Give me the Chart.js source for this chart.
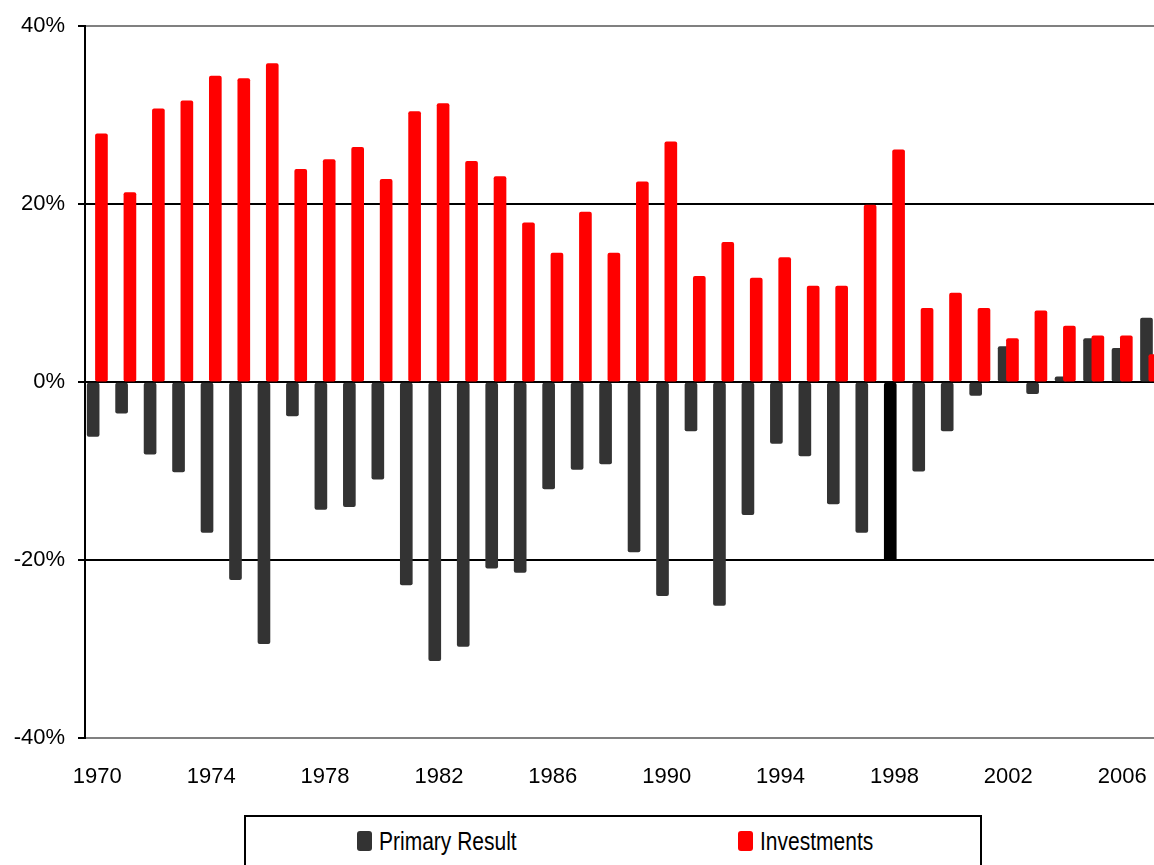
<!DOCTYPE html>
<html>
<head>
<meta charset="utf-8">
<script src="https://cdn.jsdelivr.net/npm/chart.js@4.4.0/dist/chart.umd.min.js"></script>
<style>
  html, body { margin: 0; padding: 0; background: #fff; overflow: hidden; }
  #wrap { position: relative; width: 1154px; height: 865px; }
  #legendBox { position: absolute; left: 244px; top: 815px; width: 734px; height: 80px; border: 2px solid #000; background: #fff; }
  .item { position: absolute; top: 14px; height: 20px; display: flex; align-items: center; font: 25px 'Liberation Sans', Arial, sans-serif; color: #000; white-space: nowrap; }
  .swatch { width: 15px; height: 20px; border-radius: 3px; margin-right: 7px; flex: none; }
  .txt { display: inline-block; transform: scaleX(0.84); transform-origin: 0 50%; }
</style>
</head>
<body>
<div id="wrap">
  <canvas id="chart" width="1154" height="865"></canvas>
  <div id="legendBox">
    <div class="item" style="left:111px"><span class="swatch" style="background:#333333"></span><span class="txt">Primary Result</span></div>
    <div class="item" style="left:492px"><span class="swatch" style="background:#ff0000"></span><span class="txt">Investments</span></div>
  </div>
</div>
<script>
// Data (values in %)
const years = [1970, 1971, 1972, 1973, 1974, 1975, 1976, 1977, 1978, 1979,
               1980, 1981, 1982, 1983, 1984, 1985, 1986, 1987, 1988, 1989,
               1990, 1991, 1992, 1993, 1994, 1995, 1996, 1997, 1998, 1999,
               2000, 2001, 2002, 2003, 2004, 2005, 2006, 2007];
const primaryResult = [-6.1, -3.5, -8.1, -10.1, -16.9, -22.2, -29.4, -3.8, -14.3, -14.0,
                       -10.9, -22.8, -31.3, -29.7, -20.9, -21.4, -12.0, -9.8, -9.2, -19.1,
                       -24.0, -5.5, -25.1, -14.9, -6.9, -8.3, -13.7, -16.9, -20.0, -10.0,
                       -5.5, -1.5, 4.0, -1.3, 0.6, 4.9, 3.8, 7.2];
const investments = [27.9, 21.3, 30.7, 31.6, 34.4, 34.1, 35.8, 23.9, 25.0, 26.4,
                     22.8, 30.4, 31.3, 24.8, 23.1, 17.9, 14.5, 19.1, 14.5, 22.5,
                     27.0, 11.9, 15.7, 11.7, 14.0, 10.8, 10.8, 19.9, 26.1, 8.3,
                     10.0, 8.3, 4.9, 8.0, 6.3, 5.2, 5.2, 3.1];
const xTickYears = [1970, 1974, 1978, 1982, 1986, 1990, 1994, 1998, 2002, 2006];
const yTickValues = [-40, -20, 0, 20, 40];
const highlightYear = 1998;

// axis window (last year is cut off at the right edge) and bar offset
const X_MIN = 1969.568, X_MAX = 2007.118, SHIFT = 0.146;
const FONT = { family: "'Liberation Sans', Arial, sans-serif", size: 22 };

const primaryColors = years.map(y => y === highlightYear ? '#000000' : '#333333');

const ctx = document.getElementById('chart').getContext('2d');
new Chart(ctx, {
    type: 'bar',
    data: {
        datasets: [{
            label: 'Primary Result',
            data: years.map((y, i) => ({ x: y, y: primaryResult[i] })),
            xAxisID: 'xPrimary',
            backgroundColor: primaryColors,
            barThickness: 12,
            borderRadius: 2,
            borderSkipped: false,
            grouped: false,
            order: 1
        }, {
            label: 'Investments',
            data: years.map((y, i) => ({ x: y, y: investments[i] })),
            xAxisID: 'xInvest',
            backgroundColor: '#ff0000',
            barThickness: 12,
            borderRadius: 2,
            borderSkipped: false,
            grouped: false,
            order: 0
        }]
    },
    options: {
        responsive: false,
        animation: false,
        layout: { padding: { top: 25, right: 0, bottom: 0, left: 0 } },
        plugins: {
            legend: { display: false },
            tooltip: { enabled: false }
        },
        scales: {
            x: {
                type: 'linear',
                position: 'bottom',
                offset: false,
                min: X_MIN,
                max: X_MAX,
                grid: { display: false, drawTicks: false, offset: false },
                border: { display: false },
                afterBuildTicks: s => { s.ticks = xTickYears.map(v => ({ value: v })); },
                afterFit: s => { s.height = 127; s.paddingLeft = 0; s.paddingRight = 0; },
                ticks: {
                    autoSkip: false,
                    maxRotation: 0,
                    padding: 26,
                    color: '#000',
                    font: FONT,
                    callback: v => String(v)
                }
            },
            xPrimary: { type: 'linear', display: false, offset: false, grid: { offset: false }, min: X_MIN + SHIFT, max: X_MAX + SHIFT },
            xInvest: { type: 'linear', display: false, offset: false, grid: { offset: false }, min: X_MIN - SHIFT, max: X_MAX - SHIFT },
            y: {
                min: -40,
                max: 40,
                afterBuildTicks: s => { s.ticks = yTickValues.map(v => ({ value: v })); },
                afterFit: s => { s.width = 85; },
                grid: {
                    color: c => (c.tick && Math.abs(c.tick.value) === 40) ? '#808080' : '#000000',
                    lineWidth: 2,
                    tickColor: '#000000',
                    tickLength: 7,
                    tickWidth: 2
                },
                border: { color: '#000000', width: 2 },
                ticks: {
                    padding: 13,
                    color: '#000',
                    font: FONT,
                    callback: v => v + '%'
                }
            }
        }
    }
});
</script>
</body>
</html>
